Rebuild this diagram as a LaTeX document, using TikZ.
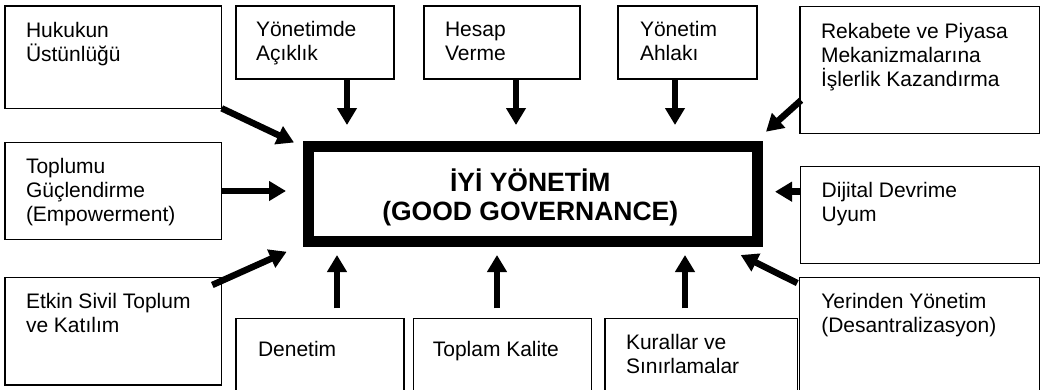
\documentclass[tikz,border=0pt]{standalone}
\usepackage{fontspec}
\setmainfont{Liberation Sans}
\usetikzlibrary{arrows.meta,positioning,calc}

\begin{document}
\begin{tikzpicture}[line join=miter,>={Triangle[length=17pt,width=19pt]},x=1.0pt,y=-1.0pt,
kutu/.style={draw,line width=1.3pt,inner sep=0pt,outer sep=0pt,anchor=north west},
yazi/.style={align=left,inner sep=0pt,outer sep=0pt,font=\fontsize{21}{24}\selectfont},
ok/.style={->,line width=6.5pt}]
\useasboundingbox (0,0) rectangle (1042,389);
\clip (0,0) rectangle (1042,389);
%boxes
\node[kutu,minimum width=216.7pt,minimum height=102.3pt] (hukuk) at (5,6) {};
\node[kutu,minimum width=158pt,minimum height=73pt] (acik) at (236,6) {};
\node[kutu,minimum width=156pt,minimum height=73pt] (hesap) at (424,6) {};
\node[kutu,minimum width=139pt,minimum height=73pt] (ahlak) at (618,6) {};
\node[kutu,minimum width=239.3pt,minimum height=126.6pt] (rekabet) at (800,6.7) {};
\node[kutu,minimum width=216.7pt,minimum height=96.6pt] (toplum) at (5,142.7) {};
\node[kutu,minimum width=238.6pt,minimum height=96.6pt] (dijital) at (800.7,166.7) {};
\node[kutu,minimum width=216.7pt,minimum height=107.3pt] (etkin) at (5,277.7) {};
\node[kutu,minimum width=168pt,minimum height=100pt] (denetim) at (236,318.3) {};
\node[kutu,minimum width=178.4pt,minimum height=100pt] (kalite) at (413.3,318.3) {};
\node[kutu,minimum width=192.3pt,minimum height=100pt] (kural) at (605,318.3) {};
\node[kutu,minimum width=240pt,minimum height=140pt] (yerinden) at (799.3,277.5) {};
\node[draw,line width=11pt,minimum width=449.5pt,minimum height=95.5pt,inner sep=0pt,outer sep=0pt,anchor=north west] (merkez) at (308,146) {};
%texts
\node[yazi,below right=16pt and 21pt of hukuk.north west] (hukukyazi) {Hukukun\\Üstünlüğü};
\node[yazi,below right=15.5pt and 20pt of acik.north west] (acikyazi) {Yönetimde\\Açıklık};
\node[yazi,below right=16pt and 21pt of hesap.north west] (hesapyazi) {Hesap\\Verme};
\node[yazi,below right=15.5pt and 22pt of ahlak.north west] (ahlakyazi) {Yönetim\\Ahlakı};
\node[yazi,below right=17pt and 21pt of rekabet.north west] (rekabetyazi) {Rekabete ve Piyasa\\Mekanizmalarına\\İşlerlik Kazandırma};
\node[yazi,below right=15.5pt and 21pt of toplum.north west] (toplumyazi) {Toplumu\\Güçlendirme\\(Empowerment)};
\node[yazi,below right=15.5pt and 21pt of dijital.north west] (dijitalyazi) {Dijital Devrime\\Uyum};
\node[yazi,below right=15.5pt and 21pt of etkin.north west] (etkinyazi) {Etkin Sivil Toplum\\ve Katılım};
\node[yazi,below right=23pt and 22pt of denetim.north west] (denetimyazi) {Denetim};
\node[yazi,below right=23pt and 19.5pt of kalite.north west] (kaliteyazi) {Toplam Kalite};
\node[yazi,below right=15.5pt and 21pt of kural.north west] (kuralyazi) {Kurallar ve\\Sınırlamalar};
\node[yazi,below right=15.5pt and 22pt of yerinden.north west] (yerindenyazi) {Yerinden Yönetim\\(Desantralizasyon)};
\node[align=center,inner sep=0pt,font=\bfseries\fontsize{26.5}{29}\selectfont] (merkezyazi) at ($(merkez.center)+(-2.5,4)$) {İYİ YÖNETİM\\(GOOD GOVERNANCE)};
%arrows
\coordinate (uc1) at (294,142.5);
\coordinate (uc2) at (347,125);
\coordinate (uc3) at (516,125);
\coordinate (uc4) at (675,125);
\coordinate (uc5) at (766,131.7);
\coordinate (uc6) at (286,191);
\coordinate (uc7) at (775,191.7);
\coordinate (uc8) at (286.7,251.7);
\coordinate (uc9) at (337,255);
\coordinate (uc10) at (497,255);
\coordinate (uc11) at (685,255);
\coordinate (uc12) at (740.7,255);
\coordinate (bas9) at (337,308.3);
\coordinate (bas10) at (497,308.3);
\coordinate (bas11) at (685,308.3);
\draw[ok] (hukuk.south east) -- (uc1);
\draw[ok] (acik.south -| uc2) -- (uc2);
\draw[ok] (hesap.south -| uc3) -- (uc3);
\draw[ok] (ahlak.south -| uc4) -- (uc4);
\draw[ok] ($(rekabet.south west)+(1,-33)$) -- (uc5);
\draw[ok] (toplum.east) -- (uc6);
\draw[ok] (dijital.west |- uc7) -- (uc7);
\draw[ok] ($(etkin.north east)+(-9.4,7.3)$) -- (uc8);
\draw[ok] (bas9) -- (uc9);
\draw[ok] (bas10) -- (uc10);
\draw[ok] (bas11) -- (uc11);
\draw[ok] ($(yerinden.north west)+(-2,5.6)$) -- (uc12);
\end{tikzpicture}
\end{document}
